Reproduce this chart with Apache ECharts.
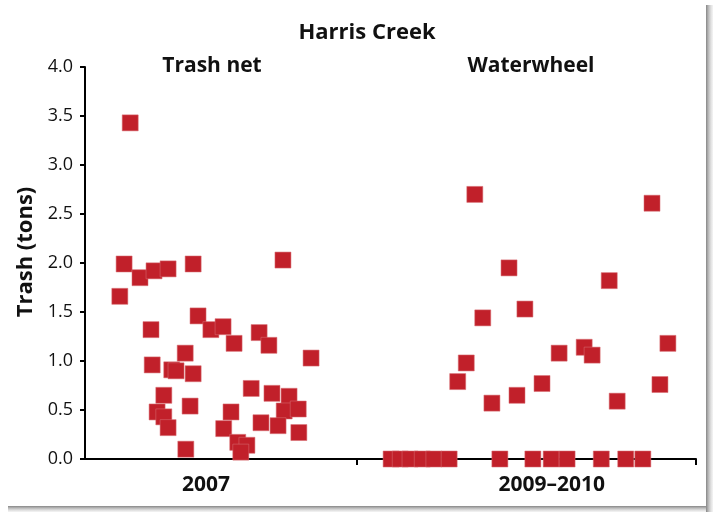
<!DOCTYPE html>
<html>
<head>
<meta charset="utf-8">
<script src="https://cdn.jsdelivr.net/npm/echarts@6/dist/echarts.min.js"></script>
<style>
  html, body { margin: 0; padding: 0; background: #fff; }
  #chart { width: 713px; height: 512px; }
</style>
</head>
<body>
<div id="chart"></div>
<script>
// x positions are the jitter positions (axis runs 0..10)
var netX = [0.74, 0.64, 0.90, 1.13, 1.36, 1.77, 3.24, 0.57, 1.85, 1.08,
  2.06, 2.26, 2.44, 2.85, 3.01, 3.70, 1.64, 1.10, 1.42, 1.49,
  1.77, 2.72, 3.06, 3.34, 1.29, 1.72, 1.18, 1.29, 1.36, 1.65,
  2.39, 3.26, 3.49, 2.88, 3.16, 2.27, 3.50, 2.50, 2.65, 2.55];
var netTons = [3.43, 1.99, 1.85, 1.92, 1.94, 1.99, 2.03, 1.66, 1.46, 1.32,
  1.32, 1.35, 1.18, 1.29, 1.16, 1.03, 1.08, 0.96, 0.91, 0.90,
  0.87, 0.72, 0.67, 0.64, 0.65, 0.54, 0.48, 0.43, 0.32, 0.10,
  0.48, 0.49, 0.51, 0.37, 0.34, 0.31, 0.27, 0.17, 0.14, 0.07];

var wheelX = [6.38, 9.28, 6.94, 8.58, 7.20, 6.51, 7.76, 8.17, 8.30, 9.54,
  6.24, 6.10, 7.48, 9.41, 7.07, 6.66, 8.71,
  5.01, 5.16, 5.32, 5.52, 5.71, 5.96, 6.79, 7.33, 7.63, 7.89, 8.45, 8.85, 9.13];
var wheelTons = [2.70, 2.61, 1.95, 1.82, 1.53, 1.44, 1.08, 1.14, 1.06, 1.18,
  0.98, 0.79, 0.77, 0.76, 0.65, 0.57, 0.59,
  0, 0, 0, 0, 0, 0, 0, 0, 0, 0, 0, 0, 0];

var groupTicks = [4.45, 10];
var groupLabelPos = [1.98, 7.64];
var groupLabels = ['2007', '2009–2010'];
var groupTitles = ['Trash net', 'Waterwheel'];

function pairs(xs, ys) {
  return xs.map(function (x, i) { return [x, ys[i]]; });
}

var font = '"Open Sans", sans-serif';
var red = '#C1202A';

var chart = echarts.init(document.getElementById('chart'));
chart.setOption({
  backgroundColor: '#fff',
  animation: false,
  title: {
    text: 'Harris Creek',
    left: 362,
    top: 17,
    textAlign: 'center',
    textStyle: { fontFamily: font, fontSize: 22, fontWeight: 'bold', color: '#111' }
  },
  graphic: [
    { type: 'text', x: 212, y: 66, style: { text: groupTitles[0], font: 'bold 21px ' + font, fill: '#111', textAlign: 'center', textVerticalAlign: 'middle' } },
    { type: 'text', x: 531, y: 66, style: { text: groupTitles[1], font: 'bold 21px ' + font, fill: '#111', textAlign: 'center', textVerticalAlign: 'middle' } },
    { type: 'text', x: 26, y: 252, rotation: Math.PI / 2,
      style: { text: 'Trash (tons)', font: 'bold 22px ' + font, fill: '#111', textAlign: 'center', textVerticalAlign: 'middle' } },
    // frame shadow on the right and bottom
    { type: 'rect', shape: { x: 706, y: 5, width: 7, height: 507 },
      style: { fill: new echarts.graphic.LinearGradient(0, 0, 1, 0, [
        { offset: 0, color: 'rgba(120,120,120,0.9)' }, { offset: 1, color: 'rgba(200,200,200,0.2)' }]) } },
    { type: 'rect', shape: { x: 8, y: 506, width: 698, height: 6 },
      style: { fill: new echarts.graphic.LinearGradient(0, 0, 0, 1, [
        { offset: 0, color: 'rgba(120,120,120,0.9)' }, { offset: 1, color: 'rgba(200,200,200,0.2)' }]) } }
  ],
  grid: { left: 85, right: 17, top: 67, bottom: 53 },
  xAxis: {
    type: 'value',
    min: 0,
    max: 10,
    splitLine: { show: false },
    axisLine: { lineStyle: { color: '#000', width: 2 } },
    axisTick: { show: true, customValues: groupTicks, length: 6, lineStyle: { color: '#000', width: 2 } },
    axisLabel: {
      customValues: groupLabelPos,
      margin: 16,
      fontFamily: font, fontSize: 21, fontWeight: 'bold', color: '#111',
      formatter: function (v) {
        var i = groupLabelPos.indexOf(v);
        return i >= 0 ? groupLabels[i] : '';
      }
    }
  },
  yAxis: {
    type: 'value',
    min: 0,
    max: 4,
    interval: 0.5,
    splitLine: { show: false },
    axisLine: { show: true, lineStyle: { color: '#000', width: 2 } },
    axisTick: { show: true, length: 5, lineStyle: { color: '#000', width: 2 } },
    axisLabel: {
      margin: 12,
      fontFamily: font, fontSize: 18, color: '#111',
      formatter: function (v) { return v.toFixed(1); }
    }
  },
  series: [
    {
      type: 'scatter',
      symbol: 'rect',
      symbolSize: 16,
      clip: false,
      itemStyle: { color: red, opacity: 1, borderColor: 'rgba(215,110,115,0.9)', borderWidth: 0.6 },
      data: pairs(netX, netTons)
    },
    {
      type: 'scatter',
      symbol: 'rect',
      symbolSize: 16,
      clip: false,
      itemStyle: { color: red, opacity: 1, borderColor: 'rgba(215,110,115,0.9)', borderWidth: 0.6 },
      data: pairs(wheelX, wheelTons)
    }
  ]
});
</script>
</body>
</html>
